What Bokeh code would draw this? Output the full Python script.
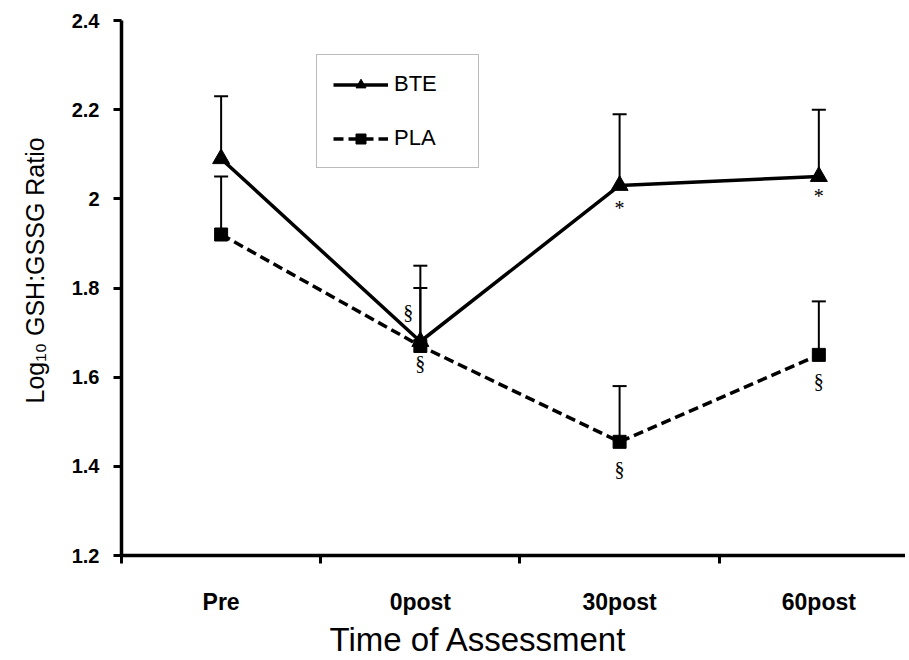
from bokeh.plotting import figure
from bokeh.models import (ColumnDataSource, Whisker, TeeHead, FixedTicker, Range1d,
                          Legend, LegendItem, Title)
from bokeh.core.properties import value
from bokeh.embed import file_html
from bokeh.resources import INLINE

categories = ["Pre", "0post", "30post", "60post"]
bte_mean = [2.09, 1.68, 2.03, 2.05]
bte_upper = [2.23, 1.85, 2.19, 2.20]
pla_mean = [1.92, 1.67, 1.455, 1.65]
pla_upper = [2.05, 1.80, 1.58, 1.77]
bte_sig = ["", "§", "*", "*"]
pla_sig = ["", "§", "§", "§"]
y_ticks = [1.2, 1.4, 1.6, 1.8, 2.0, 2.2, 2.4]
y_tick_labels = ["1.2", "1.4", "1.6", "1.8", "2", "2.2", "2.4"]
x_title = "Time of Assessment"
y_title = "Log₁₀ GSH:GSSG Ratio"

xs = [i + 0.5 for i in range(len(categories))]

p = figure(width=905, height=660, output_backend="svg", toolbar_location=None,
           x_range=Range1d(0, 3.935), y_range=Range1d(1.2, 2.4),
           min_border_left=121, min_border_top=20, min_border_bottom=105, min_border_right=0)
p.outline_line_color = None
p.grid.visible = False
p.background_fill_color = "white"

bte_src = ColumnDataSource(dict(x=xs, y=bte_mean, up=bte_upper, sig=bte_sig))
pla_src = ColumnDataSource(dict(x=xs, y=pla_mean, up=pla_upper, sig=pla_sig))

for src in (bte_src, pla_src):
    w = Whisker(source=src, base="x", lower="y", upper="up", dimension="height",
                line_width=2, line_color="black", lower_head=None,
                upper_head=TeeHead(size=14, line_width=2, line_color="black"))
    p.add_layout(w)

l1 = p.line("x", "y", source=bte_src, line_width=3.5, line_color="black")
m1 = p.scatter("x", "y", source=bte_src, marker="triangle", size=17,
               fill_color="black", line_color="black")
l2 = p.line("x", "y", source=pla_src, line_width=3.5, line_color="black", line_dash="10 5")
m2 = p.scatter("x", "y", source=pla_src, marker="square", size=13,
               fill_color="black", line_color="black")

# significance symbols (offsets in screen pixels)
bte_src.data["dx"] = [0, -12, 0, 0]
bte_src.data["dy"] = [0, -30, 23, 19]
pla_src.data["dx"] = [0, 0, 0, 0]
pla_src.data["dy"] = [0, 17, 27, 26]
for src in (bte_src, pla_src):
    p.text("x", "y", text="sig", source=src, x_offset="dx", y_offset="dy",
           text_align="center", text_baseline="middle",
           text_font=value("Liberation Serif"), text_font_size="20px", text_color="black")

# x axis
p.xaxis.ticker = FixedTicker(ticks=xs, minor_ticks=[0, 1, 2, 3])
p.xaxis.major_label_overrides = {x: c for x, c in zip(xs, categories)}
p.xaxis.major_tick_line_alpha = 0
p.xaxis.minor_tick_in = 0
p.xaxis.minor_tick_out = 8
p.xaxis.minor_tick_line_width = 3
p.xaxis.axis_line_width = 3.5
p.xaxis.axis_line_color = "black"
p.xaxis.major_label_text_font = "Liberation Sans"
p.xaxis.major_label_text_font_style = "bold"
p.xaxis.major_label_text_font_size = "23px"
p.xaxis.major_label_text_color = "black"
p.xaxis.major_label_standoff = 25

# y axis
p.yaxis.ticker = FixedTicker(ticks=y_ticks, minor_ticks=[])
p.yaxis.major_label_overrides = {t: l for t, l in zip(y_ticks, y_tick_labels)}
p.yaxis.major_tick_in = 0
p.yaxis.major_tick_out = 8
p.yaxis.major_tick_line_width = 3
p.yaxis.axis_line_width = 3.5
p.yaxis.axis_line_color = "black"
p.yaxis.major_label_text_font = "Liberation Sans"
p.yaxis.major_label_text_font_style = "bold"
p.yaxis.major_label_text_font_size = "20px"
p.yaxis.major_label_text_color = "black"
p.yaxis.major_label_standoff = 14

xt = Title(text=x_title, align="left", offset=208, standoff=3,
           text_font="Liberation Sans", text_font_style="normal",
           text_font_size="33px", text_color="black")
p.add_layout(xt, "below")
yt = Title(text=y_title, align="left", offset=152, standoff=36,
           vertical_align="top",
           text_font="Liberation Sans", text_font_style="normal",
           text_font_size="25px", text_color="black")
p.add_layout(yt, "left")

legend = Legend(items=[LegendItem(label="BTE", renderers=[l1, m1]),
                       LegendItem(label="PLA", renderers=[l2, m2])],
                location=(195, 387), orientation="vertical")
legend.border_line_color = "#777777"
legend.border_line_width = 1
legend.padding = 16
legend.spacing = 28
legend.margin = 0
legend.glyph_width = 55
legend.glyph_height = 25
legend.label_height = 25
legend.label_width = 68
legend.label_standoff = 6
legend.label_text_font = "Liberation Sans"
legend.label_text_font_size = "22px"
legend.label_text_color = "black"
legend.background_fill_alpha = 1
p.add_layout(legend, "center")

open("out.html", "w").write(file_html(p, INLINE))
